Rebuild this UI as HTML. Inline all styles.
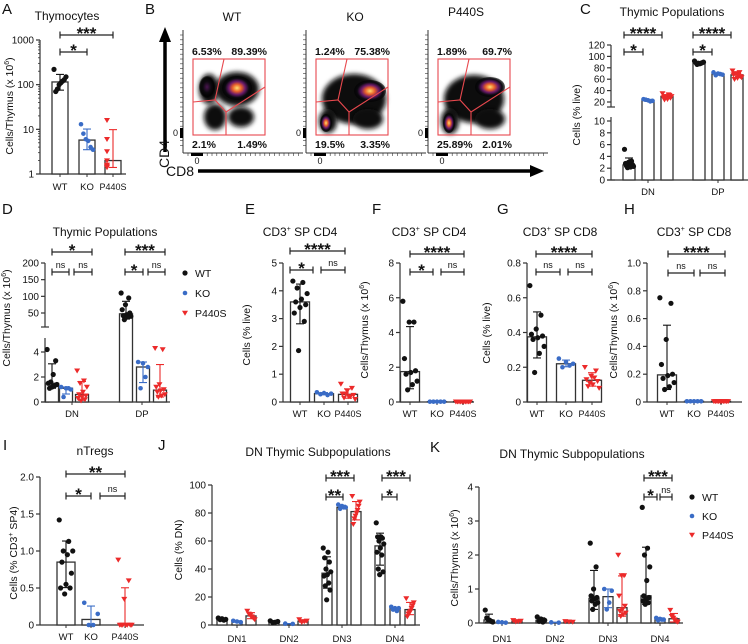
<!DOCTYPE html>
<html><head><meta charset="utf-8">
<style>
html,body{margin:0;padding:0;background:#fff;}
svg{display:block;font-family:"Liberation Sans",Arial,sans-serif;}
</style></head>
<body>
<svg id="fig" width="748" height="644" viewBox="0 0 748 644" xmlns="http://www.w3.org/2000/svg">
<defs>
<radialGradient id="hot" cx="50%" cy="50%" r="50%">
<stop offset="0" stop-color="#ffe070"/><stop offset="0.3" stop-color="#e8602a"/><stop offset="0.55" stop-color="#6a1a6a"/><stop offset="0.8" stop-color="#0c0a10"/><stop offset="1" stop-color="#000" stop-opacity="0.6"/>
</radialGradient>
<radialGradient id="dark" cx="50%" cy="50%" r="50%">
<stop offset="0" stop-color="#4a1550"/><stop offset="0.5" stop-color="#0e0a10"/><stop offset="0.85" stop-color="#000" stop-opacity="0.85"/><stop offset="1" stop-color="#000" stop-opacity="0.3"/>
</radialGradient>
<filter id="blur" x="-30%" y="-30%" width="160%" height="160%"><feGaussianBlur stdDeviation="2.5"/></filter>
</defs>
<g id="root"></g>
</svg>
<script>
// ===== Data =====
const groupNames = ["WT","KO","P440S"];
const aWT=[220,150,130,120,110,100,80,70], aKO=[13,8,6,5.5,4,3.5], aP=[16,6,3.2,2,1.6,1.5,1.4];
const cDN_WT=[5.2,3.2,3,2.8,2.6,2.5,2.4,2.3,2.2,2.1], cDN_KO=[25,23,22,24,21], cDN_P=[35,32,30,28,27,25,24,30,33,29];
const cDP_WT=[92,90,89,88,87,88,86,89], cDP_KO=[72,70,68,67,69], cDP_P=[75,72,70,68,65,62,60,63,67,70];
const dDN_WT=[4.2,3.3,2.2,1.6,1.5,1.4,1.3,1.2,1.1], dDN_KO=[1.2,1.1,1.0,0.4,1.1], dDN_P=[2.5,1.7,1.5,1.2,0.8,0.6,0.5,0.4,0.3,0.2,0.1];
const dDP_WT=[110,95,75,60,50,45,42,40,38,30], dDP_KO=[3.2,3.1,2.8,1.1,2.0], dDP_P=[4.3,4.2,1.4,1.2,1.0,0.9,0.8,0.6,0.5,0.4];
const eWT=[4.35,4.3,4.1,3.9,3.7,3.6,3.5,3.4,3.2,2.9,1.85], eKO=[0.35,0.32,0.3,0.28,0.25], eP=[0.65,0.5,0.4,0.3,0.25,0.2,0.15,0.1,0.2,0.3];
const fWT=[5.8,4.6,4.6,2.5,1.8,1.7,1.6,1.2,1.0,0.7], fKO=[0.02,0.02,0.02,0.02,0.02], fP=[0.02,0.02,0.02,0.02,0.02,0.02,0.02,0.02,0.02,0.02];
const gWT=[0.67,0.5,0.42,0.39,0.38,0.37,0.36,0.32,0.28,0.17], gKO=[0.25,0.23,0.22,0.2,0.21], gP=[0.2,0.18,0.15,0.13,0.12,0.1,0.09,0.08,0.14,0.11];
const hWT=[0.75,0.71,0.45,0.27,0.2,0.19,0.17,0.14,0.11,0.09], hKO=[0.005,0.005,0.005,0.005,0.005], hP=[0.005,0.005,0.005,0.005,0.005,0.005,0.005,0.005,0.005,0.005];
const iWT=[1.42,1.13,1.0,1.0,0.95,0.85,0.7,0.55,0.5,0.5,0.42], iKO=[0.3,0.15,0,0], iP=[0.88,0.6,0.35,0,0,0,0,0,0,0];
const jDN1_WT=[5,4.5,4,3.8,3.5], jDN1_KO=[3,2.5,2], jDN1_P=[10,8,7,6,5,4];
const jDN2_WT=[3,2.5,2,1.8], jDN2_KO=[1,0.8], jDN2_P=[4,3,2.5,2];
const jDN3_WT=[55,52,48,45,40,38,36,35,30,28,25,18], jDN3_KO=[86,85,84,83,84], jDN3_P=[92,88,85,82,80,78,76,72];
const jDN4_WT=[73,63,63,62,60,58,55,52,50,40,38,36], jDN4_KO=[13,12,12,11,10], jDN4_P=[19,16,14,12,10,9,8,6];
const kDN1_WT=[0.38,0.15,0.1,0.08,0.05,0.03], kDN1_KO=[0.03,0.02,0.01], kDN1_P=[0.08,0.06,0.05,0.04];
const kDN2_WT=[0.18,0.12,0.08,0.05,0.03], kDN2_KO=[0.02,0.01], kDN2_P=[0.05,0.04,0.03];
const kDN3_WT=[2.35,1.65,1.0,0.8,0.75,0.7,0.65,0.6,0.55,0.4], kDN3_KO=[1.0,0.95,0.6,0.4], kDN3_P=[2.0,1.4,1.4,0.8,0.5,0.4,0.35,0.3,0.25,0.2];
const kDN4_WT=[3.4,2.2,2.0,1.65,1.25,0.8,0.75,0.7,0.65,0.6,0.55], kDN4_KO=[0.15,0.12,0.1,0.08,0.1], kDN4_P=[0.38,0.2,0.15,0.1,0.05,0.03];
const flowPct=[["6.53%","89.39%","2.1%","1.49%"],["1.24%","75.38%","19.5%","3.35%"],["1.89%","69.7%","25.89%","2.01%"]];

// ===== helpers =====
const NS="http://www.w3.org/2000/svg";
const root=document.getElementById('root');
function el(tag,attrs,parent){const e=document.createElementNS(NS,tag);for(const k in attrs)e.setAttribute(k,attrs[k]);(parent||root).appendChild(e);return e;}
function txt(x,y,s,size,anchor,parent,name,extra){const t=el('text',Object.assign({x:x,y:y,'font-size':size,'text-anchor':anchor||'middle',fill:'#111'},extra||{}),parent);t.textContent=s;


return t;}
function lin(d0,d1,r0,r1){return v=>r0+(v-d0)*(r1-r0)/(d1-d0);}
function logS(d0,d1,r0,r1){return v=>r0+(Math.log10(Math.max(v,d0))-Math.log10(d0))*(r1-r0)/(Math.log10(d1)-Math.log10(d0));}
function broken(lo,hi,loMax,hiMin){return v=>v<=loMax?lo(v):(v>=hiMin?hi(v):lo(loMax)+(v-loMax)/(hiMin-loMax)*(hi(hiMin)-lo(loMax)));}
function median(a){const s=[...a].sort((x,y)=>x-y);const n=s.length;return n%2?s[(n-1)/2]:(s[n/2-1]+s[n/2])/2;}
function stats(a){const m=a.reduce((s,v)=>s+v,0)/a.length;const sd=Math.sqrt(a.reduce((s,v)=>s+(v-m)*(v-m),0)/Math.max(1,a.length-1));return {med:median(a),lo:Math.max(Math.min(...a),m-sd),hi:Math.min(Math.max(...a),m+sd)};}
const colors={WT:'#111',KO:'#3a6cc6',P440S:'#ec2a2a'};
function marker(g,x,y,grp){
  let m;
  if(grp==='P440S'){m=el('path',{d:`M${x-3},${y-2.2} L${x+3},${y-2.2} L${x},${y+2.8} Z`,fill:colors[grp]},g);}
  else{m=el('circle',{cx:x,cy:y,r:grp==='WT'?2.6:2.3,fill:colors[grp]},g);}
  
  
}
function bars(g,y,groups,bw,base){
  groups.forEach(gr=>{
    const s=stats(gr.vals);
    const y0=base!==undefined?base:y(0), yb=y(s.med);
    const r=el('rect',{x:gr.x-bw/2,y:Math.min(yb,y0),width:bw,height:Math.abs(y0-yb),fill:'#fff',stroke:'#333','stroke-width':1.3},g);
    
    
    const ec=gr.name==='WT'?'#111':colors[gr.name];
    const eg=el('g',{stroke:ec,'stroke-width':1.1},g);
    
    
    el('line',{x1:gr.x,x2:gr.x,y1:y(s.lo),y2:y(s.hi)},eg);
    el('line',{x1:gr.x-4,x2:gr.x+4,y1:y(s.lo),y2:y(s.lo)},eg);
    el('line',{x1:gr.x-4,x2:gr.x+4,y1:y(s.hi),y2:y(s.hi)},eg);
    const n=gr.vals.length;
    gr.vals.forEach((v,i)=>{const off=n>1?((i*7)%n/(n-1)-0.5)*bw*0.75:0;marker(g,gr.x+off,y(v),gr.name);});
  });
}
function yaxis(g,ax,y,ticks,labels,top,bottom,gaps){
  const a=el('g',{stroke:'#333','stroke-width':1.2},g);
  
  
  if(gaps){gaps.forEach(s=>el('line',{x1:ax,x2:ax,y1:s[0],y2:s[1]},a));gaps.forEach(s=>{el('line',{x1:ax-4,x2:ax+4,y1:s[0],y2:s[0]},a);});}
  else el('line',{x1:ax,x2:ax,y1:top,y2:bottom},a);
  ticks.forEach((t,i)=>{const yy=y(t);el('line',{x1:ax-4,x2:ax,y1:yy,y2:yy},a);txt(ax-6,yy+3.5,labels[i],10,'end',g,'y-tick-label');});
}
function xaxis(g,ax,xe,yb,cats,xs,ly){
  const l=el('line',{x1:ax,x2:xe,y1:yb,y2:yb,stroke:'#333','stroke-width':1.2},g);
  
  
  cats.forEach((c,i)=>{el('line',{x1:xs[i],x2:xs[i],y1:yb,y2:yb+3,stroke:'#333'},g);
    const ex=c.length>3?{textLength:c.length*5.4,lengthAdjust:'spacingAndGlyphs'}:{};
    txt(xs[i],ly,c,9.5,'middle',g,'x-tick-label',ex);});
}
function bracket(g,x1,x2,y,lab){
  const b=el('g',{stroke:'#222','stroke-width':1.2},g);
  
  
  el('line',{x1:x1,x2:x2,y1:y,y2:y},b);el('line',{x1:x1,x2:x1,y1:y-3.5,y2:y+3.5},b);el('line',{x1:x2,x2:x2,y1:y-3.5,y2:y+3.5},b);
  if(lab==='ns')txt((x1+x2)/2,y-4,'ns',9,'middle',g,'significance-label');
  else txt((x1+x2)/2,y+4,lab,17,'middle',g,'significance-label',{'font-weight':'bold'});
}
function ytitle(g,x,y,s){const t=txt(x,y,'',10.5,'middle',g,'y-axis-title',{transform:`rotate(-90 ${x} ${y})`});
  const parts=s.split('^');t.textContent=parts[0];if(parts.length>1){const sp=el('tspan',{'font-size':7,dy:-4},t);sp.textContent=parts[1];const sp2=el('tspan',{'font-size':10.5,dy:4},t);sp2.textContent=parts[2]||'';}return t;}
function panel(name){const g=el('g',{});return g;}
function letter(g,x,y,s){txt(x,y,s,15,'start',g,'panel-letter');}
function title(g,x,y,s,sup){const t=txt(x,y,'',12,'middle',g,'chart-title');if(sup){const a=el('tspan',{},t);a.textContent=s[0];const b=el('tspan',{'font-size':7,dy:-5},t);b.textContent='+';const c=el('tspan',{dy:5},t);c.textContent=s[1];}else t.textContent=s;}
function legend(g,x,ys){groupNames.forEach((n,i)=>{marker(g,x,ys[i],n);txt(x+10,ys[i]+4,n,10.5,'start',g,'legend-entry');});}

// ===== A =====
(function(){const g=panel('panel-a');letter(g,2,14,'A');title(g,67,20,'Thymocytes');
 const y=logS(1,1000,174,40);
 yaxis(g,40,y,[1,10,100,1000],['1','10','100','1000'],40,174);
 [2,3,4,5,6,7,8,9,20,30,40,50,60,70,80,90,200,300,400,500,600,700,800,900].forEach(v=>el('line',{x1:38,x2:40,y1:y(v),y2:y(v),stroke:'#333','stroke-width':0.8},g));
 xaxis(g,40,126,174,groupNames,[60,87,113],190);
 bars(g,y,[{x:60,name:'WT',vals:aWT},{x:87,name:'KO',vals:aKO},{x:113,name:'P440S',vals:aP}],16,174);
 ytitle(g,13,106,'Cells/Thymus (x 10^6^)');
 bracket(g,60,113,35,'***');bracket(g,60,87,52,'*');
})();

// ===== B flow =====
(function(){const g=panel('panel-b-flow');letter(g,145,14,'B');
 const xs=[183,306,428], titles=['WT','KO','P440S'];
 const ar=el('g',{},g);
 el('line',{x1:165,x2:165,y1:152,y2:40,stroke:'#000','stroke-width':3.5},ar);el('path',{d:'M159,42 L171,42 L165,27 Z',fill:'#000'},ar);
 txt(169,154,'CD4',14,'middle',g,'cd4-label',{transform:'rotate(-90 169 154)'});
 el('line',{x1:198,x2:532,y1:171,y2:171,stroke:'#000','stroke-width':3.5},g);el('path',{d:'M530,165 L530,177 L544,171 Z',fill:'#000'},g);
 txt(180,176,'CD8',14,'middle',g,'cd8-label');
 const clouds=[[[16,30,10,15],[44,30,22,17],[22,58,11,13],[48,58,13,10]],
               [[38,40,32,25],[12,62,9,12],[52,60,15,10]],
               [[36,40,30,24],[12,62,9,13],[52,60,15,10]]];
 const blobs=[[[14,28,8,11,'dark'],[44,29,15,12,'hot']],
              [[10,64,6,9,'hot'],[54,32,16,11,'hot']],
              [[11,64,6,10,'hot'],[52,28,15,10,'hot']]];
 xs.forEach((x0,k)=>{
  const p=el('g',{},g);
  txt(x0+(k==2?38:49),k==2?16:21,titles[k],12,'middle',p,'flow-title');
  el('line',{x1:x0,x2:x0,y1:30,y2:153,stroke:'#333','stroke-width':1},p);
  el('line',{x1:x0,x2:x0+120,y1:153,y2:153,stroke:'#333','stroke-width':1},p);
  for(let t=0;t<24;t++){el('line',{x1:x0+5+t*4.8,x2:x0+5+t*4.8,y1:153,y2:156,stroke:'#333','stroke-width':0.6},p);el('line',{x1:x0-3,x2:x0,y1:35+t*4.8,y2:35+t*4.8,stroke:'#333','stroke-width':0.6},p);}
  el('rect',{x:x0+8,y:153,width:12,height:3,fill:'#000'},p);el('rect',{x:x0-3,y:128,width:3,height:10,fill:'#000'},p);
  txt(x0+14,164,'0',9,'middle',p,'flow-zero');txt(x0-5,136,'0',9,'end',p,'flow-zero');
  const gx=x0+10, gy=59, gw=72, gh=76;
  clouds[k].forEach(b=>el('ellipse',{cx:gx+b[0],cy:gy+b[1],rx:b[2],ry:b[3],fill:'#111',filter:'url(#blur)'},p));
  blobs[k].forEach(b=>el('ellipse',{cx:gx+b[0],cy:gy+b[1],rx:b[2],ry:b[3],fill:`url(#${b[4]})`},p));
  const gg=el('g',{stroke:'#e8484e','stroke-width':1.1,fill:'none'},p);
  el('rect',{x:gx,y:gy,width:gw,height:gh},gg);
  el('polyline',{points:`${gx},${gy+43} ${gx+22},${gy+41} ${gx+33},${gy+53} ${gx+33},${gy+gh}`},gg);
  el('polyline',{points:`${gx+22},${gy+41} ${gx+31},${gy} `},gg);
  el('polyline',{points:`${gx+33},${gy+53} ${gx+gw},${gy+28}`},gg);
  const L=flowPct[k];
  txt(gx-1,gy-4,L[0],10.5,'start',p,'gate-pct',{'font-weight':'bold'});
  txt(gx+gw+2,gy-4,L[1],10.5,'end',p,'gate-pct',{'font-weight':'bold'});
  txt(gx-1,gy+gh+13,L[2],10.5,'start',p,'gate-pct',{'font-weight':'bold'});
  txt(gx+gw+2,gy+gh+13,L[3],10.5,'end',p,'gate-pct',{'font-weight':'bold'});
 });
})();

// ===== C =====
(function(){const g=panel('panel-c');letter(g,580,14,'C');title(g,672,16,'Thymic Populations');
 const y=broken(lin(0,10,180,121),lin(20,120,102,45),10,20);
 yaxis(g,611,y,[0,2,4,6,8,10,20,40,60,80,100,120],['0','2','4','6','8','10','20','40','60','80','100','120'],0,0,[[180,117],[107,45]]);
 xaxis(g,611,748,180,['DN','DP'],[648,718],195);
 bars(g,y,[{x:629,name:'WT',vals:cDN_WT},{x:648,name:'KO',vals:cDN_KO},{x:667,name:'P440S',vals:cDN_P},{x:699,name:'WT',vals:cDP_WT},{x:718,name:'KO',vals:cDP_KO},{x:737,name:'P440S',vals:cDP_P}],12);
 ytitle(g,580,115,'Cells (% live)');
 bracket(g,624,662,35,'****');bracket(g,624,643,52,'*');bracket(g,693,731,35,'****');bracket(g,693,712,52,'*');
})();

// ===== D =====
(function(){const g=panel('panel-d');letter(g,2,214,'D');title(g,105,236,'Thymic Populations');
 const y=broken(lin(0,4,402,352),lin(50,200,313,263),5,8);
 yaxis(g,45,y,[0,2,4,50,100,150,200],['0','2','4','50','100','150','200'],0,0,[[402,338],[327,263]]);
 xaxis(g,45,170,402,['DN','DP'],[72,142],417);
 bars(g,y,[{x:52,name:'WT',vals:dDN_WT},{x:66,name:'KO',vals:dDN_KO},{x:82,name:'P440S',vals:dDN_P},{x:126,name:'WT',vals:dDP_WT},{x:143,name:'KO',vals:dDP_KO},{x:160,name:'P440S',vals:dDP_P}],13);
 ytitle(g,10,318,'Cells/Thymus (x 10^6^)');
 bracket(g,52,92,252,'*');bracket(g,52,69,272,'ns');bracket(g,74,92,272,'ns');
 bracket(g,125,165,252,'***');bracket(g,125,143,272,'*');bracket(g,148,165,272,'ns');
 legend(g,185,[273,293,313]);
})();

function simple(name,L,lx,tx,tt,ax,xe,top,bot,dmax,ticks,labs,xs,bw,d,ttl,tlx,tly,brs){
 const g=panel(name);letter(g,lx,214,L);title(g,tx,236,tt,true);
 const y=lin(0,dmax,bot,top);
 yaxis(g,ax,y,ticks,labs,top,bot);
 xaxis(g,ax,xe,bot,groupNames,xs,417);
 bars(g,y,[{x:xs[0],name:'WT',vals:d[0]},{x:xs[1],name:'KO',vals:d[1]},{x:xs[2],name:'P440S',vals:d[2]}],bw);
 ytitle(g,tlx,tly,ttl);
 brs.forEach(b=>bracket(g,b[0],b[1],b[2],b[3]));
}
simple('panel-e','E',245,300,['CD3',' SP CD4'],283,354,263,402,5,[0,1,2,3,4,5],['0','1','2','3','4','5'],[300,324,348],19,[eWT,eKO,eP],'Cells (% live)',250,335,[[290,345,251,'****'],[290,313,270,'*'],[321,345,270,'ns']]);
simple('panel-f','F',372,429,['CD3',' SP CD4'],400,474,263,402,8,[0,2,4,6,8],['0','2','4','6','8'],[410,437,463],19,[fWT,fKO,fP],'Cells/Thymus (x 10^6^)',368,330,[[410,464,254,'****'],[410,433,272,'*'],[441,464,272,'ns']]);
simple('panel-g','G',497,560,['CD3',' SP CD8'],527,602,263,402,0.8,[0,0.2,0.4,0.6,0.8],['0','0.2','0.4','0.6','0.8'],[537,566,592],19,[gWT,gKO,gP],'Cells (% live)',490,333,[[536,592,254,'****'],[536,560,272,'ns'],[568,592,272,'ns']]);
simple('panel-h','H',624,694,['CD3',' SP CD8'],647,742,263,402,1.0,[0,0.2,0.4,0.6,0.8,1.0],['0','0.2','0.4','0.6','0.8','1.0'],[667,694,721],19,[hWT,hKO,hP],'Cells/Thymus (x 10^6^)',617,330,[[668,725,254,'****'],[668,694,273,'ns'],[700,725,273,'ns']]);

// ===== I =====
(function(){const g=panel('panel-i');letter(g,3,450,'I');title(g,95,455,'nTregs');
 const y=lin(0,2,625,477);
 yaxis(g,40,y,[0,0.5,1,1.5,2],['0','0.5','1.0','1.5','2.0'],477,625);
 xaxis(g,40,144,625,groupNames,[66,91,125],640);
 bars(g,y,[{x:66,name:'WT',vals:iWT},{x:91,name:'KO',vals:iKO},{x:125,name:'P440S',vals:iP}],18);
 ytitle(g,17,553,'Cells (% CD3^+^ SP4)');
 bracket(g,66,125,474,'**');bracket(g,66,91,496,'*');bracket(g,100,125,496,'ns');
})();

// ===== J =====
(function(){const g=panel('panel-j');letter(g,158,450,'J');title(g,318,456,'DN Thymic Subpopulations');
 const y=lin(0,100,625,485);
 yaxis(g,212,y,[0,20,40,60,80,100],['0','20','40','60','80','100'],485,625);
 xaxis(g,212,420,625,['DN1','DN2','DN3','DN4'],[237,289,342,395],642);
 const xs=[[222,237,251],[274,289,303],[327,342,356],[380,395,410]];
 const d=[[jDN1_WT,jDN1_KO,jDN1_P],[jDN2_WT,jDN2_KO,jDN2_P],[jDN3_WT,jDN3_KO,jDN3_P],[jDN4_WT,jDN4_KO,jDN4_P]];
 const gr=[];xs.forEach((r,i)=>groupNames.forEach((n,j)=>gr.push({x:r[j],name:n,vals:d[i][j]})));
 bars(g,y,gr,10);
 ytitle(g,182,550,'Cells (% DN)');
 bracket(g,326,354,478,'***');bracket(g,326,343,497,'**');bracket(g,382,410,478,'***');bracket(g,382,397,497,'*');
})();

// ===== K =====
(function(){const g=panel('panel-k');letter(g,430,452,'K');title(g,572,458,'DN Thymic Subpopulations');
 const y=lin(0,4,623,487);
 yaxis(g,479,y,[0,1,2,3,4],['0','1','2','3','4'],487,623);
 xaxis(g,479,683,623,['DN1','DN2','DN3','DN4'],[502,555,608,660],642);
 const xs=[[489,502,517],[541,555,569],[594,608,622],[646,660,674]];
 const d=[[kDN1_WT,kDN1_KO,kDN1_P],[kDN2_WT,kDN2_KO,kDN2_P],[kDN3_WT,kDN3_KO,kDN3_P],[kDN4_WT,kDN4_KO,kDN4_P]];
 const gr=[];xs.forEach((r,i)=>groupNames.forEach((n,j)=>gr.push({x:r[j],name:n,vals:d[i][j]})));
 bars(g,y,gr,10);
 ytitle(g,458,558,'Cells/Thymus (x 10^6^)');
 bracket(g,644,672,478,'***');bracket(g,644,657,497,'*');bracket(g,660,672,497,'ns');
 legend(g,692,[497,516,535]);
})();
</script>
</body></html>
